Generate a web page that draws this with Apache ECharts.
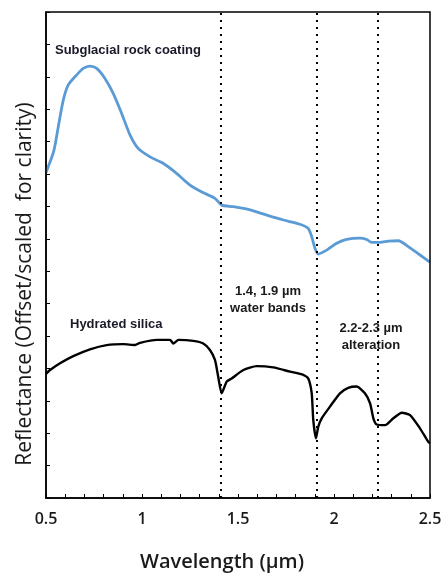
<!DOCTYPE html>
<html>
<head>
<meta charset="utf-8">
<script src="https://cdn.jsdelivr.net/npm/echarts@6/dist/echarts.min.js"></script>
<style>
  html, body { margin: 0; padding: 0; background: #fff; }
  #chart { width: 446px; height: 573px; }
</style>
</head>
<body>
<div id="chart"></div>
<script>
// wavelength (um) and offset reflectance
const coatingWave = [0.5, 0.54, 0.564, 0.59, 0.616, 0.66, 0.694, 0.729, 0.764, 0.807, 0.85, 0.894, 0.938, 0.98, 1.042, 1.11, 1.18, 1.25, 1.32, 1.38, 1.415, 1.476, 1.563, 1.65, 1.736, 1.823, 1.866, 1.884, 1.901, 1.918, 1.962, 2.014, 2.066, 2.135, 2.17, 2.196, 2.24, 2.283, 2.335, 2.387, 2.448, 2.49, 2.5];
const coatingRefl = [10.05, 10.7, 11.46, 12.28, 12.75, 13.06, 13.26, 13.33, 13.26, 12.95, 12.49, 11.87, 11.2, 10.79, 10.53, 10.33, 10.02, 9.66, 9.42, 9.25, 9.04, 8.99, 8.89, 8.73, 8.58, 8.45, 8.32, 8.06, 7.71, 7.53, 7.65, 7.86, 7.98, 8.02, 7.98, 7.89, 7.89, 7.93, 7.94, 7.76, 7.5, 7.32, 7.28];

const silicaWave = [0.5, 0.521, 0.573, 0.642, 0.729, 0.816, 0.903, 0.964, 0.99, 1.077, 1.146, 1.163, 1.19, 1.267, 1.319, 1.354, 1.38, 1.397, 1.415, 1.441, 1.467, 1.528, 1.597, 1.684, 1.771, 1.84, 1.866, 1.884, 1.892, 1.906, 1.918, 1.936, 1.979, 2.031, 2.074, 2.118, 2.161, 2.188, 2.205, 2.222, 2.266, 2.309, 2.353, 2.396, 2.448, 2.49, 2.5];
const silicaRefl = [3.83, 3.95, 4.16, 4.38, 4.59, 4.72, 4.75, 4.72, 4.79, 4.88, 4.88, 4.77, 4.88, 4.85, 4.77, 4.57, 4.26, 3.74, 3.23, 3.59, 3.69, 3.95, 4.07, 4.03, 3.9, 3.8, 3.69, 3.23, 2.41, 1.84, 2.2, 2.46, 2.82, 3.23, 3.4, 3.44, 3.23, 2.92, 2.46, 2.27, 2.25, 2.46, 2.63, 2.56, 2.15, 1.74, 1.69];

// dotted band markers
const bandLines = [1.413, 1.907, 2.23];

const xTicks = [0.5, 1, 1.5, 2, 2.5];

const xMin = 0.5, xMax = 2.5, yMin = 0, yMax = 15;

function zip(xs, ys) {
    return xs.map((x, i) => [x, ys[i]]);
}

function isLabelTick(v) {
    return xTicks.some(t => Math.abs(t - v) < 1e-6);
}

const chart = echarts.init(document.getElementById("chart"));

const textFont = "'Liberation Sans', Arial, sans-serif";
const axisFont = "'Open Sans', Lato, sans-serif";

chart.setOption({
    animation: false,
    grid: { left: 46, top: 12, right: 16, bottom: 75 },
    xAxis: {
        type: "value",
        min: xMin,
        max: xMax,
        interval: 0.1,
        axisLine: { show: true, onZero: false, lineStyle: { color: "#000", width: 1.5 } },
        axisTick: { show: true, inside: true, length: 4, lineStyle: { color: "#000", width: 1 } },
        splitLine: { show: false },
        axisLabel: {
            margin: 13,
            color: "#1a1a1a",
            fontFamily: axisFont,
            fontWeight: 600,
            fontSize: 16,
            formatter: v => isLabelTick(v) ? String(Math.round(v * 10) / 10) : ""
        },
        z: 5
    },
    yAxis: {
        type: "value",
        min: yMin,
        max: yMax,
        interval: 1,
        axisLine: { show: true, onZero: false, lineStyle: { color: "#000", width: 1.5 } },
        axisTick: { show: true, inside: true, length: 4, lineStyle: { color: "#000", width: 1 } },
        splitLine: { show: false },
        axisLabel: { show: false }
    },
    series: [
        {
            name: "Subglacial rock coating",
            type: "line",
            data: zip(coatingWave, coatingRefl),
            showSymbol: false,
            smooth: 0.25,
            lineStyle: { color: "#5b9bd5", width: 2.8 },
            z: 3
        },
        {
            name: "Hydrated silica",
            type: "line",
            data: zip(silicaWave, silicaRefl),
            showSymbol: false,
            smooth: 0.2,
            lineStyle: { color: "#000", width: 2.4 },
            z: 3,
            markLine: {
                silent: true,
                symbol: "none",
                label: { show: false },
                lineStyle: { color: "#000", type: [2, 5], width: 2, cap: "butt" },
                data: bandLines.map(x => ({ xAxis: x }))
            }
        }
    ]
});

// plot frame taken from the axes' own scales
const topLeft = chart.convertToPixel({ gridIndex: 0 }, [xMin, yMax]);
const bottomRight = chart.convertToPixel({ gridIndex: 0 }, [xMax, yMin]);

chart.setOption({
    graphic: [
        {
            type: "rect", z: 10, silent: true,
            shape: { x: topLeft[0], y: topLeft[1], width: bottomRight[0] - topLeft[0], height: bottomRight[1] - topLeft[1] },
            style: { fill: null, stroke: "#000", lineWidth: 1.5 }
        },
        {
            type: "text", left: 55, top: 44,
            style: { text: "Subglacial rock coating", fill: "#1a1a2a", font: "bold 13px " + textFont }
        },
        {
            type: "text", left: 70, top: 318,
            style: { text: "Hydrated silica", fill: "#1a1a2a", font: "bold 13px " + textFont }
        },
        {
            type: "text", x: 268, y: 300,
            style: { text: "1.4, 1.9 \u00b5m\nwater bands", fill: "#1a1a1a", font: "bold 13px " + textFont, align: "center", verticalAlign: "middle", lineHeight: 17 }
        },
        {
            type: "text", x: 371, y: 337,
            style: { text: "2.2-2.3 \u00b5m\nalteration", fill: "#1a1a1a", font: "bold 13px " + textFont, align: "center", verticalAlign: "middle", lineHeight: 17 }
        },
        {
            type: "text", x: 222, y: 562,
            style: { text: "Wavelength (\u00b5m)", fill: "#1a1a1a", font: "600 20px " + axisFont, align: "center", verticalAlign: "middle" }
        },
        {
            type: "text", x: 25, y: 284, rotation: Math.PI / 2,
            style: { text: "Reflectance (Offset/scaled  for clarity)", fill: "#1a1a1a", font: "21px " + axisFont, align: "center", verticalAlign: "middle" }
        }
    ]
});
</script>
</body>
</html>
